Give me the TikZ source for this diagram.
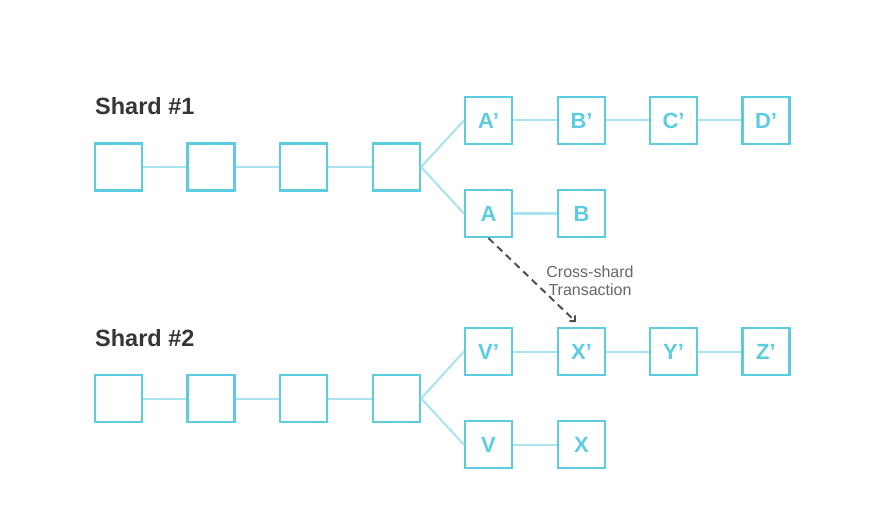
\documentclass[tikz,border=0pt]{standalone}
\usepackage{fontspec}
\setmainfont{Liberation Sans}
\usetikzlibrary{arrows.meta}
\definecolor{boxc}{HTML}{5CCDE1}
\definecolor{linkc}{HTML}{A8E4EF}
\definecolor{labc}{HTML}{333638}
\definecolor{arrc}{HTML}{505050}
\definecolor{txtc}{HTML}{666666}
\begin{document}
\begin{tikzpicture}[x=1pt,y=-1pt,
  blk/.style={draw=boxc,line width=2.3pt,minimum width=47pt,minimum height=47pt,inner sep=0pt,
    font=\fontsize{22}{22}\selectfont\bfseries,text=boxc},
  link/.style={draw=linkc,line width=2pt},
  shard/.style={anchor=base west,inner sep=0pt,font=\fontsize{23.5}{23.5}\selectfont\bfseries,text=labc},
  xarrow/.style={draw=arrc,line width=2pt,dash pattern=on 7pt off 5pt,-{Straight Barb[length=4pt,width=8pt]}}]
\useasboundingbox (0,0) rectangle (875,505);
% Shard 1
\node[shard] (s1) at (95,115) {Shard \#1};
\node[blk] (a1) at (118.5,167) {};
\node[blk] (a2) at (211,167) {};
\node[blk] (a3) at (303.5,167) {};
\node[blk] (a4) at (396.5,167) {};
\node[blk] (Ap) at (488.5,120.5) {A’};
\node[blk] (Bp) at (581.5,120.5) {B’};
\node[blk] (Cp) at (673.5,120.5) {C’};
\node[blk] (Dp) at (766,120.5) {D’};
\node[blk] (A) at (488.5,213.5) {A};
\node[blk] (B) at (581.5,213.5) {B};
\draw[link] (a1) -- (a2);
\draw[link] (a2) -- (a3);
\draw[link] (a3) -- (a4);
\draw[link] (a4.east) -- (Ap.west);
\draw[link] (a4.east) -- (A.west);
\draw[link] (Ap) -- (Bp);
\draw[link] (Bp) -- (Cp);
\draw[link] (Cp) -- (Dp);
\draw[link] (A) -- (B);
% Shard 2
\node[shard] (s2) at (95,346) {Shard \#2};
\node[blk] (b1) at (118.5,398.5) {};
\node[blk] (b2) at (211,398.5) {};
\node[blk] (b3) at (303.5,398.5) {};
\node[blk] (b4) at (396.5,398.5) {};
\node[blk] (Vp) at (488.5,351.5) {V’};
\node[blk] (Xp) at (581.5,351.5) {X’};
\node[blk] (Yp) at (673.5,351.5) {Y’};
\node[blk] (Zp) at (766,351.5) {Z’};
\node[blk] (V) at (488.5,444.5) {V};
\node[blk] (X) at (581.5,444.5) {X};
\draw[link] (b1) -- (b2);
\draw[link] (b2) -- (b3);
\draw[link] (b3) -- (b4);
\draw[link] (b4.east) -- (Vp.west);
\draw[link] (b4.east) -- (V.west);
\draw[link] (Vp) -- (Xp);
\draw[link] (Xp) -- (Yp);
\draw[link] (Yp) -- (Zp);
\draw[link] (V) -- (X);
% cross-shard
\coordinate (xe) at (576,322);
\draw[xarrow] (A.south) -- (xe);
\node[align=center,text=txtc,font=\fontsize{16}{18.5}\selectfont,inner sep=0pt] (lbl) at (590,281) {Cross-shard\\Transaction};
\end{tikzpicture}
\end{document}
